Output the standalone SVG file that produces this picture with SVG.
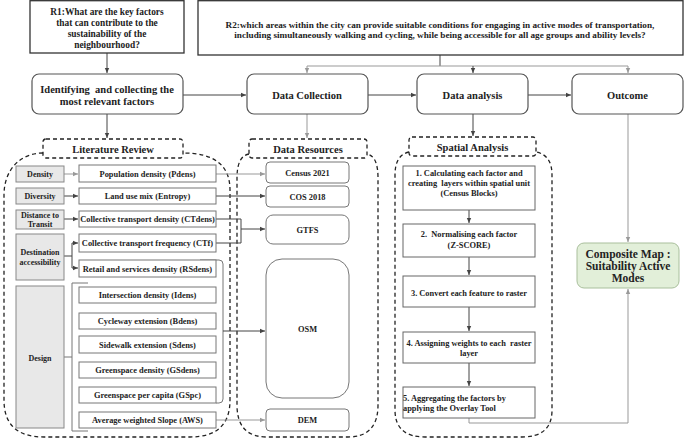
<svg xmlns="http://www.w3.org/2000/svg" width="685" height="440" viewBox="0 0 685 440">
<style>
text{font-family:"Liberation Serif","Times New Roman",serif;font-weight:bold;fill:#222;text-anchor:middle}
.q{fill:#fff;stroke:#333;stroke-width:1.3}
.main{fill:#fff;stroke:#555;stroke-width:1.2}
.t10{font-size:10.5px}
.t9{font-size:9.4px}
.r2{font-size:9.2px}
.cat{fill:#e8e8e8;stroke:#888;stroke-width:1}
.fac{fill:#fff;stroke:#777;stroke-width:1}
.res{fill:#fff;stroke:#777;stroke-width:1}
.step{fill:#fff;stroke:#666;stroke-width:1}
.c8{font-size:8px}
.f8{font-size:8.4px}
.dash{fill:none;stroke:#222;stroke-width:1.3;stroke-dasharray:4 3}
.lab{fill:#fff;stroke:#222;stroke-width:1.3;stroke-dasharray:4 3}
.dk{fill:none;stroke:#444;stroke-width:1}
.gr{fill:none;stroke:#999;stroke-width:1}
.pre{white-space:pre}
</style>
<defs>
<marker id="ad" markerUnits="userSpaceOnUse" markerWidth="6" markerHeight="6" refX="5" refY="3" orient="auto"><path d="M0,0.8 L5,3 L0,5.2 z" fill="#444"/></marker>
<marker id="ag" markerUnits="userSpaceOnUse" markerWidth="6" markerHeight="6" refX="5" refY="3" orient="auto"><path d="M0,0.8 L5,3 L0,5.2 z" fill="#999"/></marker>
</defs>

<!-- containers -->
<g id="containers">
<path class="dash" d="M43,153 C20,153 4,170 4,195 L4,400 Q4,437 44,437 L190,437 Q230,437 230,400 L230,190 Q230,153 183,153"/>
<path class="dash" d="M249,154 Q237,156 237,178 L237,405 Q237,437 267,437 L348,437 Q378,437 378,405 L378,178 Q378,156 367,154"/>
<path class="dash" d="M409,152 Q395,155 395,175 L395,410 Q395,437 425,437 L522,437 Q552,437 552,410 L552,175 Q552,155 536,152"/>
</g>

<g id="connectors">
<path class="dk" d="M107,53 V73" marker-end="url(#ad)"/>
<path class="dk" d="M107,114 V138" marker-end="url(#ad)"/>
<path class="dk" d="M183,95 H246" marker-end="url(#ad)"/>
<path class="dk" d="M368,95 H416" marker-end="url(#ad)"/>
<path class="dk" d="M528,95 H571" marker-end="url(#ad)"/>
<path class="dk" d="M440,55 V66"/>
<path class="gr" d="M307,66 H628"/>
<path class="gr" d="M307,66 V73" marker-end="url(#ag)"/>
<path class="dk" d="M473,66 V73" marker-end="url(#ad)"/>
<path class="gr" d="M628,66 V73" marker-end="url(#ag)"/>
<path class="gr" d="M307,114 V138" marker-end="url(#ag)"/>
<path class="dk" d="M473,114 V136" marker-end="url(#ad)"/>
<path class="gr" d="M628,114 V242" marker-end="url(#ag)"/>
<!-- categories to factors -->
<path class="gr" d="M64,174 H78" marker-end="url(#ag)"/>
<path class="dk" d="M64,196 H78" marker-end="url(#ad)"/>
<path class="dk" d="M64,219 H78" marker-end="url(#ad)"/>
<path class="dk" d="M64,256 H72 M72,243 V268"/>
<path class="dk" d="M72,243 H78" marker-end="url(#ad)"/>
<path class="dk" d="M72,268 H78" marker-end="url(#ad)"/>
<path class="gr" d="M64,357 H72 M88,283 H72 V431 H88" style="stroke:#777"/>
<!-- factors to resources -->
<path class="gr" d="M216,174 H265" marker-end="url(#ag)"/>
<path class="dk" d="M216,196 H265" marker-end="url(#ad)"/>
<path class="dk" d="M216,219 H241 V243 H216 M241,229 H265" marker-end="url(#ad)"/>
<path class="gr" d="M200,260 H219 Q223,260 223,264 V399 Q223,403 219,403 H216" style="stroke:#777"/>
<path class="dk" d="M223,331 H265" marker-end="url(#ad)"/>
<path class="gr" d="M216,420 H265" marker-end="url(#ag)"/>
<!-- steps -->
<path class="dk" d="M469,210 V223" marker-end="url(#ad)"/>
<path class="dk" d="M469,257 V275" marker-end="url(#ad)"/>
<path class="dk" d="M469,307 V331" marker-end="url(#ad)"/>
<path class="dk" d="M469,363 V386" marker-end="url(#ad)"/>
<path class="gr" d="M469,418 V423 H628 V289" marker-end="url(#ag)"/>
</g>

<g id="r1"><rect class="q" x="30" y="0.7" width="154" height="52.3"/>
<text class="t9" x="107" y="14.5">R1:What are the key factors</text>
<text class="t9" x="107" y="25.5">that can contribute to the</text>
<text class="t9" x="107" y="36.8">sustainability of the</text>
<text class="t9" x="107" y="48">neighbourhood?</text></g>

<g id="r2"><rect class="q" x="198" y="0.7" width="485" height="54.3"/>
<text class="r2" x="440" y="27.5">R2:which areas within the city can provide suitable conditions for engaging in active modes of transportation,</text>
<text class="r2" x="440" y="38">including simultaneously walking and cycling, while being accessible for all age groups and ability levels?</text></g>

<g id="identify"><rect class="main" x="32" y="74" width="151" height="40" rx="7"/>
<text class="t10 pre" x="107" y="92.5">Identifying  and collecting the</text>
<text class="t10" x="107" y="104.5">most relevant factors</text></g>
<g id="datacollection"><rect class="main" x="247" y="74" width="121" height="40" rx="7"/>
<text class="t10" x="307" y="98.5">Data Collection</text></g>
<g id="dataanalysis"><rect class="main" x="417" y="74" width="111" height="40" rx="7"/>
<text class="t10" x="472.5" y="98.5">Data analysis</text></g>
<g id="outcome"><rect class="main" x="572" y="74" width="111" height="40" rx="7"/>
<text class="t10" x="627.5" y="98.5">Outcome</text></g>

<g id="litreview"><rect class="lab" x="43" y="139" width="140" height="19" rx="3"/>
<text class="t10" x="113" y="152.5">Literature Review</text></g>
<g id="dataresources"><rect class="lab" x="249" y="139" width="118" height="19" rx="3"/>
<text class="t10" x="308" y="152.5">Data Resources</text></g>
<g id="spatial"><rect class="lab" x="409" y="137" width="127" height="19" rx="3"/>
<text class="t10" x="472.5" y="150.5">Spatial Analysis</text></g>

<!-- categories -->
<g id="cat-density"><rect class="cat" x="16" y="166" width="48" height="16"/><text class="c8" x="40" y="177">Density</text></g>
<g id="cat-diversity"><rect class="cat" x="16" y="188" width="48" height="16"/><text class="c8" x="40" y="199">Diversity</text></g>
<g id="cat-distance"><rect class="cat" x="16" y="210" width="48" height="19"/><text class="c8" x="40" y="217.5">Distance to</text><text class="c8" x="40" y="227">Transit</text></g>
<g id="cat-destination"><rect class="cat" x="16" y="234" width="48" height="46"/><text class="c8" x="40" y="255">Destination</text><text class="c8" x="40" y="265">accessibility</text></g>
<g id="cat-design"><rect class="cat" x="16" y="286" width="48" height="142"/><text class="c8" x="40" y="361">Design</text></g>

<!-- factors -->
<g id="f-pdens"><rect class="fac" x="79" y="165" width="137" height="17"/><text class="f8" x="147.5" y="176.5">Population density (Pdens)</text></g>
<g id="f-entropy"><rect class="fac" x="79" y="188" width="137" height="16"/><text class="f8" x="147.5" y="199">Land use mix (Entropy)</text></g>
<g id="f-ctdens"><rect class="fac" x="79" y="211" width="137" height="16"/><text class="f8" x="147.5" y="222">Collective transport density (CTdens)</text></g>
<g id="f-ctf"><rect class="fac" x="79" y="234" width="137" height="18"/><text class="f8" x="147.5" y="246">Collective transport frequency (CTf)</text></g>
<g id="f-rsdens"><rect class="fac" x="79" y="260" width="137" height="17"/><text class="f8" x="147.5" y="271.5">Retail and services density (RSdens)</text></g>
<g id="f-idens"><rect class="fac" x="79" y="287" width="137" height="16"/><text class="f8" x="147.5" y="298">Intersection density (Idens)</text></g>
<g id="f-bdens"><rect class="fac" x="79" y="313" width="137" height="16"/><text class="f8" x="147.5" y="324">Cycleway extension (Bdens)</text></g>
<g id="f-sdens"><rect class="fac" x="79" y="336" width="137" height="17"/><text class="f8" x="147.5" y="347.5">Sidewalk extension (Sdens)</text></g>
<g id="f-gsdens"><rect class="fac" x="79" y="362" width="137" height="16"/><text class="f8" x="147.5" y="373">Greenspace density (GSdens)</text></g>
<g id="f-gspc"><rect class="fac" x="79" y="387" width="137" height="16"/><text class="f8" x="147.5" y="398">Greenspace per capita (GSpc)</text></g>
<g id="f-aws"><rect class="fac" x="79" y="412" width="137" height="16"/><text class="f8" x="147.5" y="423">Average weighted Slope (AWS)</text></g>

<!-- resources -->
<g id="census"><rect class="res" x="266" y="162" width="83" height="21" rx="4"/><text class="f8" x="307.5" y="175.5">Census 2021</text></g>
<g id="cos"><rect class="res" x="266" y="186" width="83" height="21" rx="4"/><text class="f8" x="307.5" y="199.5">COS 2018</text></g>
<g id="gtfs"><rect class="res" x="266" y="215" width="83" height="29" rx="7"/><text class="f8" x="307.5" y="232.5">GTFS</text></g>
<g id="osm"><rect class="res" x="266" y="259" width="83" height="139" rx="16"/><text class="f8" x="307.5" y="332">OSM</text></g>
<g id="dem"><rect class="res" x="266" y="409" width="83" height="22" rx="4"/><text class="f8" x="307.5" y="423">DEM</text></g>

<!-- steps -->
<g id="step1"><rect class="step" x="403" y="166" width="132" height="44"/>
<text class="f8" x="469" y="176">1. Calculating each factor and</text>
<text class="f8 pre" x="469" y="186">creating  layers within spatial unit</text>
<text class="f8" x="469" y="196">(Census Blocks)</text></g>
<g id="step2"><rect class="step" x="403" y="224" width="132" height="33"/>
<text class="f8 pre" x="469" y="237">2.  Normalising each factor</text>
<text class="f8" x="469" y="248">(Z-SCORE)</text></g>
<g id="step3"><rect class="step" x="403" y="276" width="132" height="31"/>
<text class="f8" x="469" y="295.5">3. Convert each feature to raster</text></g>
<g id="step4"><rect class="step" x="403" y="332" width="132" height="31"/>
<text class="f8 pre" x="469" y="346">4. Assigning weights to each  raster</text>
<text class="f8" x="469" y="356">layer</text></g>
<g id="step5"><rect class="step" x="403" y="387" width="132" height="31"/>
<text class="f8" x="403" y="401" style="text-anchor:start">5. Aggregating the factors by</text>
<text class="f8" x="403" y="411" style="text-anchor:start">applying the Overlay Tool</text></g>

<g id="composite"><rect x="577" y="243" width="102" height="45" rx="7" fill="#e2efd9" stroke="#a9bf9c" stroke-width="1"/>
<text x="628" y="258" style="font-size:11.5px">Composite Map :</text>
<text x="628" y="269.5" style="font-size:11.5px">Suitability Active</text>
<text x="628" y="281.5" style="font-size:11.5px">Modes</text></g>
</svg>
